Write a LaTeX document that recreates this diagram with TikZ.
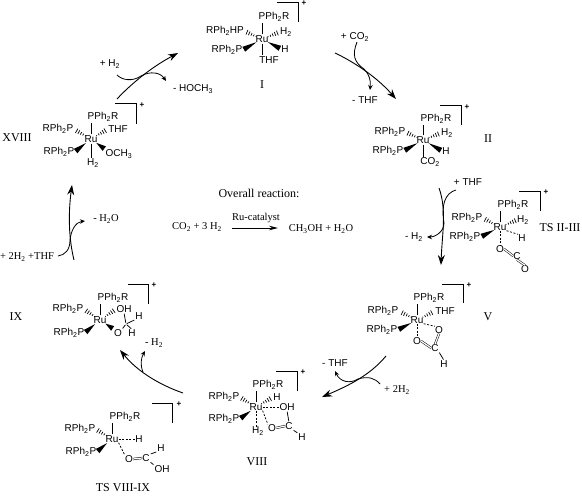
\documentclass[tikz,border=0pt]{standalone}
\usepackage{fontspec}
\setmainfont{Liberation Serif}
\setsansfont{Liberation Sans}
\usepackage{xcolor}
\usetikzlibrary{arrows.meta, calc}

\tikzset{
  lig/.style={font=\fontsize{10}{12}\selectfont\sffamily, inner sep=0pt},
  cmpd/.style={font=\fontsize{12}{14}\selectfont, inner sep=0pt},
  note/.style={font=\fontsize{10.5}{12}\selectfont, inner sep=0pt},
  chg/.style={font=\fontsize{8}{9}\selectfont\sffamily\bfseries, inner sep=0pt},
  bond/.style={line width=0.75pt, shorten <=1pt, shorten >=1pt},
  dbond/.style={line width=0.75pt, dash pattern=on 2pt off 1.6pt},
  dblbond/.style={double, double distance=1.2pt, line width=0.5pt},
  cage/.style={line width=0.9pt},
  mainarrow/.style={line width=0.9pt, -{Stealth[length=10pt, width=7pt]}},
  sidearrow/.style={line width=0.8pt, -{Stealth[length=5pt, width=4.5pt]}},
  sideline/.style={line width=0.8pt},
}

% wedge from atom #1 to ligand #2
\newcommand{\wedgebond}[2]{%
  \coordinate (wb) at ($(#2)!1.5pt!(#1)$);
  \fill ($(#1)!6.5pt!(#2)$) -- ($(wb)!2.8pt!90:(#1)$) -- ($(wb)!2.8pt!-90:(#1)$) -- cycle;
}
% hashed wedge from atom #1 to ligand #2
\newcommand{\hashbond}[2]{%
  \foreach \t/\w in {6.5/0.5, 9/1, 11.5/1.5, 14/2, 16.5/2.5} {
    \coordinate (hh) at ($(#1)!\t pt!(#2)$);
    \draw[line width=0.7pt] ($(hh)!\w pt!90:(#2)$) -- ($(hh)!\w pt!-90:(#2)$);
  }
}

\begin{document}
\begin{tikzpicture}[x=1pt, y=-1pt]
\useasboundingbox (0,0) rectangle (582,496);

% --- Complex I ---
\node[lig] (ruI) at (262,39) {Ru};
\node[lig] (topI) at (274,17) {PPh\textsubscript{2}R};
\node[lig] (hpI) at (225,31) {RPh\textsubscript{2}HP};
\node[lig] (pI) at (227,50) {RPh\textsubscript{2}P};
\node[lig] (hhI) at (286,32) {H\textsubscript{2}};
\node[lig] (hI) at (285,49) {H};
\node[lig] (thfI) at (269,60) {THF};
\draw[bond] (ruI.north) -- (ruI.north |- topI.south);
\draw[bond] (ruI.south) -- (ruI.south |- thfI.north);
\hashbond{ruI}{hpI.east}
\hashbond{ruI}{hhI.west}
\wedgebond{ruI}{pI.east}
\wedgebond{ruI}{hI.west}
\draw[cage] (277,2) -| (298,22);
\node[chg] (plusI) at (304,3) {+};
\node[cmpd] (nameI) at (262,85) {I};

% Arrow I to II
\coordinate (aIs) at (335,53);
\coordinate (aIm) at (364,69);
\coordinate (aIe) at (396,99);
\draw[mainarrow] (aIs) .. controls (350,60) and (375,75) .. (aIe);
\node[lig] (co2I) at (355,37) {+ CO\textsubscript{2}};
\coordinate (bIs) at (357,42);
\coordinate (bIe) at (370,90);
\draw[sideline] (bIs) .. controls (352,55) and (354,62) .. (aIm);
\draw[sidearrow] (aIm) .. controls (369,74) and (371,80) .. (bIe);
\node[lig] (thfoutI) at (365,100) {- THF};

% --- Complex II ---
\node[lig] (ruII) at (423,140) {Ru};
\node[lig] (topII) at (436,119) {PPh\textsubscript{2}R};
\node[lig] (p1II) at (390,132) {RPh\textsubscript{2}P};
\node[lig] (p2II) at (388,151) {RPh\textsubscript{2}P};
\node[lig] (hhII) at (447,133) {H\textsubscript{2}};
\node[lig] (hII) at (446,151) {H};
\node[lig] (co2II) at (430,162) {CO\textsubscript{2}};
\draw[bond] (ruII.north) -- (ruII.north |- topII.south);
\draw[bond] (ruII.south) -- (ruII.south |- co2II.north);
\hashbond{ruII}{p1II.east}
\hashbond{ruII}{hhII.west}
\wedgebond{ruII}{p2II.east}
\wedgebond{ruII}{hII.west}
\draw[cage] (440,105) -| (461,125);
\node[chg] (plusII) at (467,107) {+};
\node[cmpd] (nameII) at (488,139) {II};

% Arrow II to TS II-III
\coordinate (aIIs) at (439,188);
\coordinate (aIIm) at (444,223);
\coordinate (aIIe) at (441,265);
\draw[mainarrow] (aIIs) .. controls (447,210) and (442,235) .. (aIIe);
\node[lig] (thfII) at (468,182) {+ THF};
\coordinate (bIIs) at (456,190);
\coordinate (bIIe) at (427,237);
\draw[sideline] (bIIs) .. controls (445,193) and (441,205) .. (aIIm);
\draw[sidearrow] (aIIm) .. controls (444,232) and (435,237) .. (bIIe);
\node[lig] (hhoutII) at (414,237) {- H\textsubscript{2}};

% --- TS II-III ---
\node[lig] (ruT) at (500,227) {Ru};
\node[lig] (topT) at (513,205) {PPh\textsubscript{2}R};
\node[lig] (p1T) at (467,218) {RPh\textsubscript{2}P};
\node[lig] (p2T) at (465,237) {RPh\textsubscript{2}P};
\node[lig] (hhT) at (523,220) {H\textsubscript{2}};
\node[lig] (hT) at (522,238) {H};
\node[lig] (o1T) at (500,249) {O};
\node[lig] (cT) at (517,256) {C};
\node[lig] (o2T) at (525,269) {O};
\draw[bond] (ruT.north) -- (ruT.north |- topT.south);
\draw[dbond] (ruT.south) -- (o1T.north);
\draw[dbond] (ruT.south east) -- (hT.north west);
\draw[dblbond] (o1T.east) -- (cT.west);
\draw[dblbond] (cT.south) -- (o2T.north);
\hashbond{ruT}{p1T.east}
\hashbond{ruT}{hhT.west}
\wedgebond{ruT}{p2T.east}
\draw[cage] (519,191) -| (540,211);
\node[chg] (plusT) at (546,192) {+};
\node[cmpd] (nameT) at (560,228) {TS II-III};

% --- Complex V ---
\node[lig] (ruV) at (417,320) {Ru};
\node[lig] (topV) at (429,298) {PPh\textsubscript{2}R};
\node[lig] (p1V) at (383,311) {RPh\textsubscript{2}P};
\node[lig] (p2V) at (382,330) {RPh\textsubscript{2}P};
\node[lig] (thfV) at (445,311) {THF};
\node[lig] (o1V) at (439,330) {O};
\node[lig] (o2V) at (417,341) {O};
\node[lig] (cV) at (435,348) {C};
\node[lig] (hV) at (444,364) {H};
\draw[bond] (ruV.north) -- (ruV.north |- topV.south);
\draw[dbond] (ruV.south) -- (o2V.north);
\draw[dbond] (ruV.south east) -- (o1V.north west);
\draw[dblbond] (o1V.south) -- (cV.north);
\draw[dblbond] (o2V.east) -- (cV.west);
\draw[bond] (cV.south east) -- (hV.north);
\hashbond{ruV}{p1V.east}
\hashbond{ruV}{thfV.west}
\wedgebond{ruV}{p2V.east}
\draw[cage] (442,284) -| (463,303);
\node[chg] (plusV) at (469,285) {+};
\node[cmpd] (nameV) at (488,317) {V};

% Arrow V to VIII
\coordinate (aVs) at (386,356);
\coordinate (aVm) at (358,379);
\coordinate (aVe) at (322,397);
\draw[mainarrow] (aVs) .. controls (370,375) and (350,385) .. (aVe);
\node[lig] (thfV2) at (335,363) {- THF};
\node[note] (hhinV) at (397,390) {+ 2H\textsubscript{2}};
\coordinate (bVs) at (380,384);
\coordinate (bVe) at (335,371);
\draw[sideline] (bVs) .. controls (375,378) and (368,376) .. (aVm);
\draw[sidearrow] (aVm) .. controls (350,384) and (340,382) .. (bVe);

% --- Complex VIII ---
\node[lig] (ruE) at (256,407) {Ru};
\node[lig] (topE) at (268,385) {PPh\textsubscript{2}R};
\node[lig] (p1E) at (224,397) {RPh\textsubscript{2}P};
\node[lig] (p2E) at (224,419) {RPh\textsubscript{2}P};
\node[lig] (hhE) at (277,397) {H};
\node[lig] (ohE) at (287,407) {OH};
\node[lig] (oE) at (272,428) {O};
\node[lig] (cE) at (289,426) {C};
\node[lig] (hE) at (302,437) {H};
\node[lig] (h2E) at (258,431) {H\textsubscript{2}};
\draw[bond] (ruE.north) -- (ruE.north |- topE.south);
\draw[dbond] (ruE.south) -- (ruE.south |- h2E.north);
\draw[dbond] (ruE.east) -- (ohE.west);
\draw[dbond] (ruE.south east) -- (oE.north west);
\draw[dblbond] (oE.east) -- (cE.west);
\draw[bond] (ohE.south) -- (cE.north);
\draw[bond] (cE.south east) -- (hE.north west);
\hashbond{ruE}{p1E.east}
\hashbond{ruE}{hhE.west}
\wedgebond{ruE}{p2E.east}
\draw[cage] (276,371) -| (297,391);
\node[chg] (plusE) at (303,372) {+};
\node[cmpd] (nameE) at (257,462) {VIII};

% --- TS VIII-IX ---
\node[lig] (ruS) at (112,439) {Ru};
\node[lig] (topS) at (125,417) {PPh\textsubscript{2}R};
\node[lig] (p1S) at (80,429) {RPh\textsubscript{2}P};
\node[lig] (p2S) at (81,452) {RPh\textsubscript{2}P};
\node[lig] (hhS) at (139,439) {H};
\node[lig] (oS) at (129,459) {O};
\node[lig] (cS) at (146,458) {C};
\node[lig] (hS) at (161,448) {H};
\node[lig] (ohS) at (162,469) {OH};
\draw[bond] (ruS.north) -- (ruS.north |- topS.south);
\draw[dbond] (ruS.east) -- (hhS.west);
\draw[dbond] (ruS.south east) -- (oS.north west);
\draw[dblbond] (oS.east) -- (cS.west);
\draw[bond] (cS.north east) -- (hS.south west);
\draw[bond] (cS.south east) -- (ohS.north west);
\hashbond{ruS}{p1S.east}
\wedgebond{ruS}{p2S.east}
\draw[cage] (152,403) -| (172,423);
\node[chg] (plusS) at (179,404) {+};
\node[cmpd] (nameS) at (123,488) {TS VIII-IX};

% Arrow VIII to IX
\coordinate (aEs) at (183,393);
\coordinate (aEm) at (143,372);
\coordinate (aEe) at (120,350);
\draw[mainarrow] (aEs) .. controls (160,385) and (138,372) .. (aEe);
\coordinate (bEe) at (145,351);
\draw[sidearrow] (aEm) .. controls (140,365) and (141,358) .. (bEe);
\node[note] (hhoutE) at (154,343) {- H\textsubscript{2}};

% --- Complex IX ---
\node[lig] (ruN) at (100,320) {Ru};
\node[lig] (topN) at (113,298) {PPh\textsubscript{2}R};
\node[lig] (p1N) at (68,309) {RPh\textsubscript{2}P};
\node[lig] (p2N) at (69,333) {RPh\textsubscript{2}P};
\node[lig] (ohN) at (124,309) {OH};
\node[lig] (oN) at (118,333) {O};
\node[lig] (h1N) at (139,316) {H};
\node[lig] (h2N) at (132,333) {H};
\coordinate (cN) at (126,324);
\draw[bond] (ruN.north) -- (ruN.north |- topN.south);
\draw[bond] (ohN.south) -- (cN);
\draw[bond] (cN) -- (h1N.south west);
\draw[bond] (cN) -- (oN.north east);
\draw[bond] (cN) -- (h2N.north);
\hashbond{ruN}{p1N.east}
\hashbond{ruN}{ohN.west}
\wedgebond{ruN}{p2N.east}
\wedgebond{ruN}{oN.north west}
\draw[cage] (128,284) -| (148,304);
\node[chg] (plusN) at (154,285) {+};
\node[cmpd] (nameN) at (16,317) {IX};

% Arrow IX to XVIII
\coordinate (aNs) at (74,260);
\coordinate (aNm) at (70,240);
\coordinate (aNe) at (72,185);
\draw[mainarrow] (aNs) .. controls (69,240) and (68,215) .. (aNe);
\node[note] (hhinN) at (27,257) {+ 2H\textsubscript{2} +THF};
\coordinate (bNs) at (58,256);
\coordinate (bNe) at (85,221);
\draw[sideline] (bNs) .. controls (65,255) and (70,250) .. (aNm);
\draw[sidearrow] (aNm) .. controls (71,230) and (76,222) .. (bNe);
\node[note] (h2oN) at (106,219) {- H\textsubscript{2}O};

% --- Complex XVIII ---
\node[lig] (ruX) at (91,139) {Ru};
\node[lig] (topX) at (103,117) {PPh\textsubscript{2}R};
\node[lig] (p1X) at (58,129) {RPh\textsubscript{2}P};
\node[lig] (p2X) at (59,152) {RPh\textsubscript{2}P};
\node[lig] (thfX) at (118,129) {THF};
\node[lig] (omeX) at (119,154) {OCH\textsubscript{3}};
\node[lig] (h2X) at (93,163) {H\textsubscript{2}};
\draw[bond] (ruX.north) -- (ruX.north |- topX.south);
\draw[bond] (ruX.south) -- (ruX.south |- h2X.north);
\hashbond{ruX}{p1X.east}
\hashbond{ruX}{thfX.west}
\wedgebond{ruX}{p2X.east}
\wedgebond{ruX}{omeX.north west}
\draw[cage] (115,103) -| (136,124);
\node[chg] (plusX) at (142,105) {+};
\node[cmpd] (nameX) at (17,138) {XVIII};

% Arrow XVIII to I
\coordinate (aXs) at (117,99);
\coordinate (aXm) at (141,76);
\coordinate (aXe) at (178,53);
\draw[mainarrow] (aXs) .. controls (130,85) and (150,68) .. (aXe);
\node[lig] (hhinX) at (110,64) {+ H\textsubscript{2}};
\coordinate (bXs) at (117,75);
\coordinate (bXe) at (166,81);
\draw[sideline] (bXs) .. controls (122,80) and (132,82) .. (aXm);
\draw[sidearrow] (aXm) .. controls (150,71) and (160,72) .. (bXe);
\node[lig] (meohX) at (193,89) {- HOCH\textsubscript{3}};

% --- Overall reaction ---
\node[cmpd] (titleC) at (259,193) {Overall reaction:};
\node[note] (eqL) at (197,227) {CO\textsubscript{2} + 3 H\textsubscript{2}};
\node[note] (catC) at (256,218) {Ru-catalyst};
\node[note] (eqR) at (321,229) {CH\textsubscript{3}OH + H\textsubscript{2}O};
\coordinate (eqS) at (232,228);
\coordinate (eqE) at (278,228);
\draw[line width=0.9pt, -{Stealth[length=9pt, width=4.5pt]}] (eqS) -- (eqE);

\end{tikzpicture}
\end{document}
